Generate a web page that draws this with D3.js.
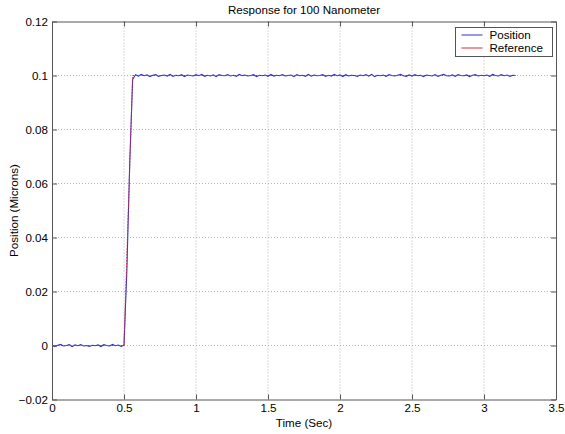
<!DOCTYPE html>
<html>
<head>
<meta charset="utf-8">
<script src="https://cdn.jsdelivr.net/npm/d3@7"></script>
<style>
  body { margin: 0; background: #fff; }
  svg { display: block; font-family: "Liberation Sans", Arial, sans-serif; }
</style>
</head>
<body>
<div id="chart"></div>
<script>
// sample step of the measured signal (sec)
var sampleStep = 0.02;

// measured position (microns), one value per sample
var positionValues = [
  0.0002,-0.0003,0.0001,0.0004,-0.0002,0,0.0003,-0.0004,0.0002,-0.0001,
  0.0003,-0.0002,0,-0.0003,0.0001,-0.0001,0.0002,-0.0004,0.0003,0,
  -0.0002,0.0004,-0.0001,0.0002,-0.0003,0.0001,
  0.028,0.068,0.0985,
  0.1003,0.0998,0.1004,0.0999,0.1002,0.0996,0.1001,0.1003,0.0997,0.1000,0.1002,0.0998,0.1004,0.0997,0.1001,0.0999,0.1003,0.0996,0.1002,0.1000,
  0.0998,0.1003,0.0999,0.1004,0.0997,0.1001,0.0998,0.1002,0.0996,0.1003,0.1000,0.0999,0.1003,0.0998,0.1001,0.0997,0.1004,0.0999,0.1002,0.0998,
  0.1000,0.1003,0.0996,0.1001,0.0999,0.1002,0.0997,0.1004,0.0998,0.1001,0.0999,0.1003,0.0998,0.1000,0.1002,0.0996,0.1003,0.0999,0.1001,0.0997,
  0.1004,0.0998,0.1002,0.0999,0.1000,0.1003,0.0997,0.1001,0.0998,0.1004,0.0999,0.1002,0.0996,0.1003,0.0998,0.1001,0.1000,0.0997,0.1002,0.0999,
  0.1003,0.0998,0.1004,0.0996,0.1001,0.0999,0.1002,0.0997,0.1003,0.1000,0.0998,0.1001,0.1004,0.0999,0.0997,0.1002,0.0998,0.1003,0.0999,0.1001,
  0.0996,0.1002,0.1000,0.0998,0.1003,0.0997,0.1001,0.1004,0.0999,0.0998,0.1002,0.0997,0.1003,0.1000,0.0999,0.1002,0.0996,0.1001,0.1003,0.0998,
  0.1001,0.0999,0.1002,0.0997,0.1004,0.1000,0.0998,0.1003,0.0999,0.1002,0.0997,0.1001,0.1000
];

// commanded reference step
var referenceTimes = [0, 0.5, 0.56, 3.22];
var referenceValues = [0, 0, 0.1, 0.1];

var xTicks = [0, 0.5, 1, 1.5, 2, 2.5, 3, 3.5];
var yTicks = [-0.02, 0, 0.02, 0.04, 0.06, 0.08, 0.1, 0.12];
var seriesNames = ["Position", "Reference"];
var seriesColors = ["#3030d0", "#e02828"];

var width = 565, height = 434;
var margin = { top: 21.5, right: 9, bottom: 34.5, left: 52 };
var innerW = width - margin.left - margin.right;
var innerH = height - margin.top - margin.bottom;
var fontSize = '11.6px';

var svg = d3.select('#chart').append('svg')
  .attr('width', width)
  .attr('height', height);

var g = svg.append('g')
  .attr('transform', 'translate(' + margin.left + ',' + margin.top + ')');

var x = d3.scaleLinear().domain([0, 3.5]).range([0, innerW]);
var y = d3.scaleLinear().domain([-0.02, 0.12]).range([innerH, 0]);

// grid
g.selectAll('.vgrid').data(xTicks.slice(1, -1)).enter().append('line')
  .attr('x1', function(d) { return x(d); }).attr('x2', function(d) { return x(d); })
  .attr('y1', 0).attr('y2', innerH)
  .attr('stroke', '#b4b4b4').attr('stroke-width', 1).attr('stroke-dasharray', '1,2');
g.selectAll('.hgrid').data(yTicks.slice(1, -1)).enter().append('line')
  .attr('y1', function(d) { return y(d); }).attr('y2', function(d) { return y(d); })
  .attr('x1', 0).attr('x2', innerW)
  .attr('stroke', '#b4b4b4').attr('stroke-width', 1).attr('stroke-dasharray', '1,2');

var fmt = function(d) { return d3.format('~g')(+d.toFixed(4)); };

// axes, inward ticks on all four sides
var axisColor = '#555';
function styleAxis(sel) {
  sel.select('.domain').attr('stroke', axisColor);
  sel.selectAll('.tick line').attr('stroke', axisColor);
  sel.selectAll('.tick text').attr('fill', '#000').style('font-size', fontSize)
    .style('font-family', '"Liberation Sans", Arial, sans-serif');
}
g.append('g').attr('transform', 'translate(0,' + innerH + ')')
  .call(d3.axisBottom(x).tickValues(xTicks).tickFormat(fmt).tickSizeInner(-5).tickSizeOuter(0).tickPadding(4))
  .call(styleAxis);
g.append('g')
  .call(d3.axisLeft(y).tickValues(yTicks).tickFormat(fmt).tickSizeInner(-5).tickSizeOuter(0).tickPadding(4))
  .call(styleAxis);
g.append('g')
  .call(d3.axisTop(x).tickValues(xTicks).tickFormat('').tickSizeInner(-5).tickSizeOuter(0))
  .call(styleAxis);
g.append('g').attr('transform', 'translate(' + innerW + ',0)')
  .call(d3.axisRight(y).tickValues(yTicks).tickFormat('').tickSizeInner(-5).tickSizeOuter(0))
  .call(styleAxis);

// lines
var positionData = positionValues.map(function(v, i) { return [i * sampleStep, v]; });
var referenceData = referenceTimes.map(function(t, i) { return [t, referenceValues[i]]; });
var line = d3.line().x(function(d) { return x(d[0]); }).y(function(d) { return y(d[1]); });

g.append('path').datum(positionData)
  .attr('d', line).attr('fill', 'none')
  .attr('stroke', seriesColors[0]).attr('stroke-width', 1.1);
g.append('path').datum(referenceData)
  .attr('d', line).attr('fill', 'none')
  .attr('stroke', seriesColors[1]).attr('stroke-width', 1)
  .attr('stroke-dasharray', '1.5,1.5');

// title and labels
svg.append('text').attr('x', margin.left + innerW / 2).attr('y', 14)
  .attr('text-anchor', 'middle').style('font-size', fontSize).text('Response for 100 Nanometer');
svg.append('text').attr('x', margin.left + innerW / 2).attr('y', 427)
  .attr('text-anchor', 'middle').style('font-size', fontSize).text('Time (Sec)');
svg.append('text')
  .attr('transform', 'translate(18,' + (margin.top + innerH / 2) + ') rotate(-90)')
  .attr('text-anchor', 'middle').style('font-size', fontSize).text('Position (Microns)');

// legend
var legend = svg.append('g').attr('transform', 'translate(455.5,27.5)');
legend.append('rect').attr('width', 97).attr('height', 29)
  .attr('fill', '#fff').attr('stroke', axisColor);
seriesNames.forEach(function(name, i) {
  var ly = 7.5 + i * 13;
  legend.append('line').attr('x1', 6).attr('x2', 27).attr('y1', ly).attr('y2', ly)
    .attr('stroke', seriesColors[i]).attr('stroke-width', 1);
  legend.append('text').attr('x', 34).attr('y', ly + 4)
    .style('font-size', fontSize).text(name);
});
</script>
</body>
</html>
